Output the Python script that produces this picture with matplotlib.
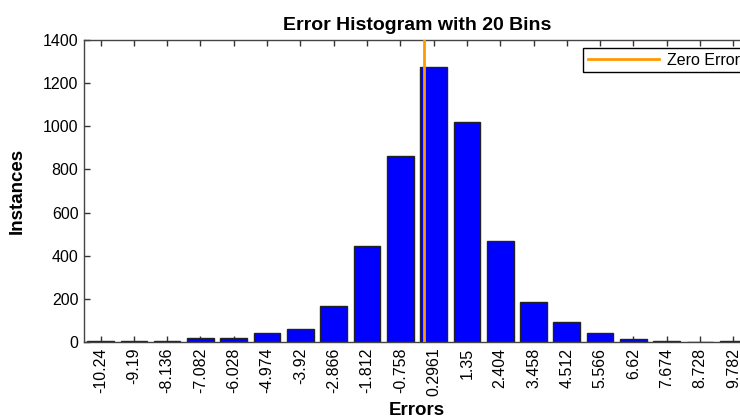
import matplotlib
matplotlib.use("Agg")
import matplotlib.pyplot as plt
import numpy as np

plt.rcParams['font.family'] = ['Liberation Sans', 'DejaVu Sans']

bin_centers = [-10.24, -9.19, -8.136, -7.082, -6.028, -4.974, -3.92, -2.866, -1.812, -0.758,
               0.2961, 1.35, 2.404, 3.458, 4.512, 5.566, 6.62, 7.674, 8.728, 9.782]
tick_labels = ["-10.24", "-9.19", "-8.136", "-7.082", "-6.028", "-4.974", "-3.92", "-2.866", "-1.812", "-0.758",
               "0.2961", "1.35", "2.404", "3.458", "4.512", "5.566", "6.62", "7.674", "8.728", "9.782"]
counts = [5, 5, 5, 20, 20, 40, 62, 165, 445, 862,
          1275, 1020, 468, 185, 91, 40, 14, 3, 2, 3]
zero_error = 0.0

bin_w = (bin_centers[-1] - bin_centers[0]) / (len(bin_centers) - 1)

fig = plt.figure(figsize=(7.4, 4.19), dpi=100)
ax = fig.add_axes([84/740, 77/419, 666/740, 302/419])

ax.bar(bin_centers, counts, width=bin_w * 0.8, color='#0000FF', edgecolor='#222222',
       linewidth=1.0, zorder=2)
ax.axvline(zero_error, color='#FF9900', linewidth=2, label='Zero Error', zorder=3)

ax.set_xlim(bin_centers[0] - bin_w / 2, bin_centers[-1] + bin_w / 2)
ax.set_ylim(0, 1400)
ax.set_yticks(np.arange(0, 1401, 200))
ax.set_xticks(bin_centers)
ax.set_xticklabels(tick_labels, rotation=90, fontsize=11.5)
ax.tick_params(axis='y', labelsize=11.5)
ax.tick_params(direction='in', top=True, right=True, length=4, width=1, color='#333333', pad=4)
for s in ax.spines.values():
    s.set_color('#444444')
    s.set_linewidth(1)

ax.set_title('Error Histogram with 20 Bins', fontsize=14, fontweight='bold', pad=7)
ax.set_xlabel('Errors', fontsize=13.5, fontweight='bold', labelpad=4)
ax.set_ylabel('Instances', fontsize=13.5, fontweight='bold', labelpad=12)

leg = ax.legend(loc='upper right', bbox_to_anchor=(1.0, 0.99), fontsize=11.5, fancybox=False,
                edgecolor='black', framealpha=1, borderaxespad=0.3, handlelength=4.5,
                handletextpad=0.5, borderpad=0.3)
leg.get_frame().set_linewidth(1)

fig.savefig('out.png', dpi=100)
